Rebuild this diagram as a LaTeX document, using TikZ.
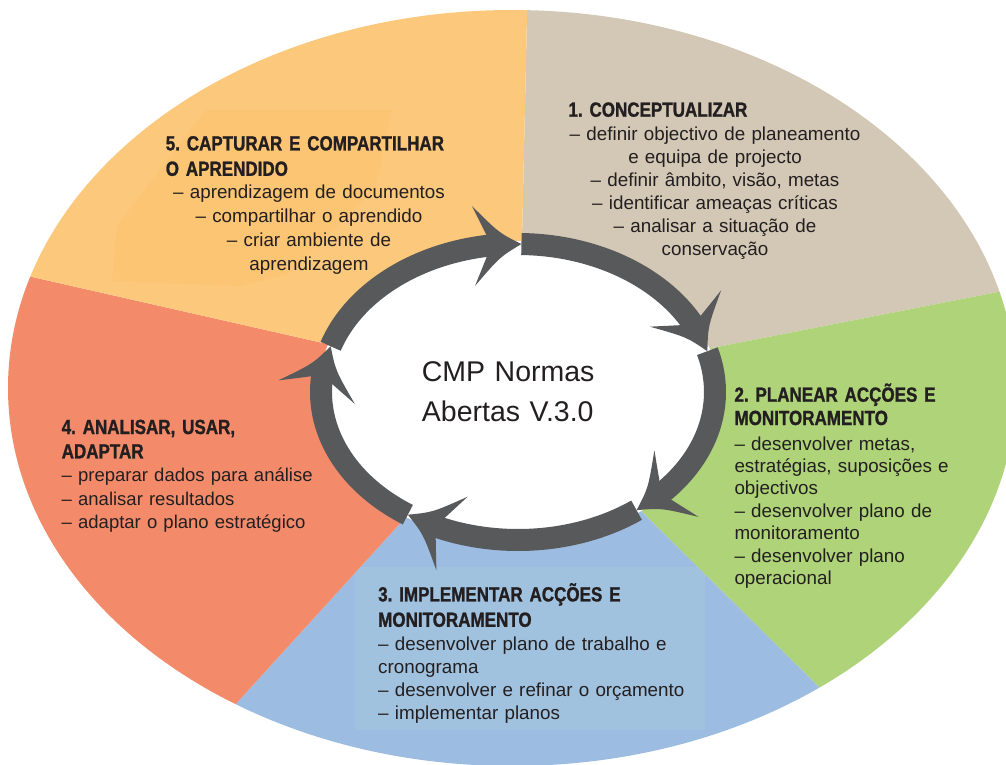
\documentclass[tikz,border=0pt]{standalone}
\usepackage{fontspec}
\setmainfont{Liberation Sans}
\newfontfamily\headfont[FakeStretch=0.83, BoldFeatures={FakeBold=1.2}]{Liberation Sans}
\usetikzlibrary{calc}
\frenchspacing
\definecolor{cyel}{HTML}{FCC87C}
\definecolor{cyelp}{HTML}{FCC573}
\definecolor{cbei}{HTML}{D3C8B5}
\definecolor{cgrn}{HTML}{AED378}
\definecolor{cblu}{HTML}{9DBCE1}
\definecolor{cblup}{HTML}{A1C2DF}
\definecolor{cred}{HTML}{F38B6A}
\definecolor{cring}{HTML}{58595B}
\definecolor{ctxt}{HTML}{231F20}
\newcommand{\arrowtip}[2]{%
  \pgfmathsetmacro{\ahx}{518+197*cos(#1)}%
  \pgfmathsetmacro{\ahy}{-392+148*sin(#1)}%
  \pgfmathsetmacro{\ahdx}{197*(cos(#1)-cos(#1+#2))}%
  \pgfmathsetmacro{\ahdy}{148*(sin(#1)-sin(#1+#2))}%
  \pgfmathsetmacro{\aha}{atan2(\ahdy,\ahdx)}%
  \fill[cring, shift={(\ahx pt,\ahy pt)}, rotate=\aha]
    (0,0) .. controls (-22,12) .. (-48,40) -- (-30,0) -- (-48,-40)
    .. controls (-22,-12) .. (0,0) -- cycle;}
\begin{document}
\begin{tikzpicture}[x=1pt,y=1pt,
  ringseg/.style={draw=cring, line width=22pt, line cap=butt, line join=round},
  hd/.style={font=\headfont\bfseries\fontsize{20.5}{24.5}\selectfont, text=ctxt, inner sep=0pt, align=left, anchor=base west, text width=330pt},
  bd/.style={font=\fontsize{18.8}{23.3}\selectfont, text=ctxt, inner sep=0pt},
  ctr/.style={font=\fontsize{28.5}{40}\selectfont, text=ctxt, inner sep=0pt, align=left, anchor=base west, text width=220pt}]
\useasboundingbox (0,0) rectangle (1006,-764);
\coordinate (C) at (520,-390);
% sectors
\begin{scope}
  \clip (512,-388) ellipse [x radius=504pt, y radius=378pt];
  \fill[cbei] (C) -- (522,-240) -- (528,30) -- (1100,30) -- (1100,-272) -- (712,-348) -- cycle;
  \fill[cgrn] (C) -- (712,-348) -- (1100,-272) -- (1100,-866) -- (1000,-866) -- (640,-510) -- cycle;
  \fill[cblu] (C) -- (640,-510) -- (1000,-866) -- (61,-896) -- (405,-518) -- cycle;
  \fill[cred] (C) -- (405,-518) -- (61,-896) -- (-100,-896) -- (-100,-247) -- (323,-343) -- cycle;
  \fill[cyel] (C) -- (323,-343) -- (-100,-247) -- (-100,30) -- (528,30) -- (522,-240) -- cycle;
  % faint text panels
  \fill[cyelp] (206,-110) -- (392,-110) -- (375,-189) -- (287,-274) -- (240,-286) -- (112,-281) -- (117,-226) -- cycle;
  \begin{scope}
    \clip (C) -- (640,-510) -- (1000,-866) -- (61,-896) -- (405,-518) -- cycle;
    \fill[cblup] (355,-567) rectangle (705,-730);
  \end{scope}
\end{scope}
% white centre
\fill[white] (518,-392) ellipse [x radius=200pt, y radius=151pt];
% ring segments
\draw[ringseg] plot[domain=25:89, samples=60] ({518+197*cos(\x)},{-392+148*sin(\x)});
\draw[ringseg] plot[domain=-45.5:16, samples=60] ({518+197*cos(\x)},{-392+148*sin(\x)});
\draw[ringseg] plot[domain=-116.5:-53, samples=60] ({518+197*cos(\x)},{-392+148*sin(\x)});
\draw[ringseg] plot[domain=-189:-124, samples=60] ({518+197*cos(\x)},{-392+148*sin(\x)});
\draw[ringseg] plot[domain=-264:-198, samples=60] ({518+197*cos(\x)},{-392+148*sin(\x)});
% arrow heads
\arrowtip{16}{10}
\arrowtip{-53}{9}
\arrowtip{-124}{9}
\arrowtip{-198}{10}
\arrowtip{-271}{8}
% centre text
\node[ctr] (centre) at (421.7,-381.7) {CMP Normas\\Abertas V.3.0};
% 1
\node[hd] (h1) at (568.3,-116.7) {1. CONCEPTUALIZAR};
\node[bd, anchor=base, text width=340pt, align=center, font=\fontsize{18.8}{23}\selectfont] (b1) at (715,-140)
  {– definir objectivo de planeamento\\e equipa de projecto\\– definir âmbito, visão, metas\\– identificar ameaças críticas\\– analisar a situação de\\conservação};
% 2
\node[hd, font=\headfont\bfseries\fontsize{20.5}{23.3}\selectfont] (h2) at (734.3,-401.7) {2. PLANEAR ACÇÕES E\\MONITORAMENTO};
\node[bd, anchor=base west, text width=300pt, align=left, font=\fontsize{18.8}{22.4}\selectfont] (b2) at (734.3,-450)
  {– desenvolver metas,\\estratégias, suposições e\\objectivos\\– desenvolver plano de\\monitoramento\\– desenvolver plano\\operacional};
% 3
\node[hd, font=\headfont\bfseries\fontsize{20.5}{25.4}\selectfont] (h3) at (378,-601.4) {3. IMPLEMENTAR ACÇÕES E\\MONITORAMENTO};
\node[bd, anchor=base west, text width=340pt, align=left, font=\fontsize{18.8}{23.1}\selectfont] (b3) at (378,-650.5)
  {– desenvolver plano de trabalho e\\cronograma\\– desenvolver e refinar o orçamento\\– implementar planos};
% 4
\node[hd, font=\headfont\bfseries\fontsize{20.5}{24.4}\selectfont] (h4) at (61.5,-434) {4. ANALISAR, USAR,\\ADAPTAR};
\node[bd, anchor=base west, text width=300pt, align=left, font=\fontsize{18.5}{23.7}\selectfont] (b4) at (61.5,-481.4)
  {– preparar dados para análise\\– analisar resultados\\– adaptar o plano estratégico};
% 5
\node[hd, font=\headfont\bfseries\fontsize{20.5}{25.4}\selectfont] (h5) at (165.6,-150.4) {5. CAPTURAR E COMPARTILHAR\\O APRENDIDO};
\node[bd, anchor=base, text width=340pt, align=center, font=\fontsize{18.8}{23.9}\selectfont] (b5) at (309,-198.8)
  {– aprendizagem de documentos\\– compartilhar o aprendido\\– criar ambiente de\\aprendizagem};
\end{tikzpicture}
\end{document}
